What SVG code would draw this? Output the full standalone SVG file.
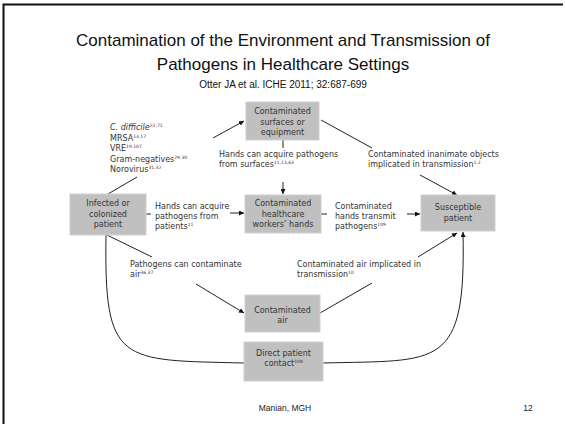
<svg xmlns="http://www.w3.org/2000/svg" width="565" height="424" viewBox="0 0 565 424">
<style>
.title{font-family:"Liberation Sans",Arial,sans-serif;fill:#111;text-anchor:middle}
.box{fill:#c0c0c0;stroke:#d0d0d0;stroke-width:1}
.bt{font-family:"DejaVu Sans",Verdana,sans-serif;font-size:8px;fill:#333;text-anchor:middle}
.lbl{font-family:"DejaVu Sans",Verdana,sans-serif;font-size:8px;fill:#333}
.sup{font-size:4.5px}
.ln{fill:none;stroke:#222;stroke-width:1}
.foot{font-family:"Liberation Sans",Arial,sans-serif;font-size:8.5px;fill:#222}
</style>
<defs>
<marker id="ah" viewBox="0 0 5 5" refX="5" refY="2.5" markerWidth="5" markerHeight="5" markerUnits="userSpaceOnUse" orient="auto">
<path d="M0,0 L5,2.5 L0,5 z" fill="#111"/>
</marker>
</defs>
<rect width="565" height="424" fill="#fff"/>
<path d="M3.5,424 V4.5 H563" fill="none" stroke="#111" stroke-width="2"/>
<g id="title">
<text class="title" x="283" y="46" font-size="17">Contamination of the Environment and Transmission of</text>
<text class="title" x="283" y="70" font-size="17">Pathogens in Healthcare Settings</text>
<text class="title" x="283" y="88" font-size="10">Otter JA et al. ICHE 2011; 32:687-699</text>
</g>
<g id="connectors">
<path class="ln" d="M213,138 L244,121" marker-end="url(#ah)"/>
<path class="ln" d="M108,194 L137,177"/>
<path class="ln" d="M283,140 V148"/>
<path class="ln" d="M283,182 V194" marker-end="url(#ah)"/>
<path class="ln" d="M146,214 H151"/>
<path class="ln" d="M230,213 H244" marker-end="url(#ah)"/>
<path class="ln" d="M321,214 H327"/>
<path class="ln" d="M407,214 H420" marker-end="url(#ah)"/>
<path class="ln" d="M321,120 L372,148"/>
<path class="ln" d="M420,175 L457,195" marker-end="url(#ah)"/>
<path class="ln" d="M107,235 L152,257"/>
<path class="ln" d="M196,284 L244,313" marker-end="url(#ah)"/>
<path class="ln" d="M320,313 L372,283"/>
<path class="ln" d="M418,257 L457,233" marker-end="url(#ah)"/>
<path class="ln" d="M106,235 C104,365 120,360 244,363"/>
<path class="ln" d="M323,363 C440,360 466,370 463,232" marker-end="url(#ah)"/>
</g>
<g id="pathogens">
<text class="lbl" x="110" y="130" font-style="italic">C. difficile<tspan class="sup" font-style="normal" dy="-3">22,71</tspan></text>
<text class="lbl" x="110" y="140.5">MRSA<tspan class="sup" dy="-3">13,17</tspan></text>
<text class="lbl" x="110" y="151">VRE<tspan class="sup" dy="-3">19,107</tspan></text>
<text class="lbl" x="110" y="161.5">Gram-negatives<tspan class="sup" dy="-3">29,30</tspan></text>
<text class="lbl" x="110" y="172">Norovirus<tspan class="sup" dy="-3">31,32</tspan></text>
</g>
<g id="surfaces">
<rect class="box" x="246" y="102" width="73" height="38"/>
<text class="bt" x="282.5" y="114">Contaminated</text>
<text class="bt" x="282.5" y="124.5">surfaces or</text>
<text class="bt" x="282.5" y="135">equipment</text>
</g>
<g id="infected">
<rect class="box" x="70" y="194" width="76" height="41"/>
<text class="bt" x="108" y="206">Infected or</text>
<text class="bt" x="108" y="216.5">colonized</text>
<text class="bt" x="108" y="227">patient</text>
</g>
<g id="hands">
<rect class="box" x="245" y="195" width="76" height="38"/>
<text class="bt" x="283" y="206">Contaminated</text>
<text class="bt" x="283" y="216.5">healthcare</text>
<text class="bt" x="283" y="227">workers’ hands</text>
</g>
<g id="susceptible">
<rect class="box" x="421" y="195" width="74" height="36"/>
<text class="bt" x="458" y="210">Susceptible</text>
<text class="bt" x="458" y="221">patient</text>
</g>
<g id="air">
<rect class="box" x="245" y="295" width="75" height="37"/>
<text class="bt" x="282.5" y="313">Contaminated</text>
<text class="bt" x="282.5" y="323">air</text>
</g>
<g id="direct">
<rect class="box" x="244" y="342" width="79" height="39"/>
<text class="bt" x="283.5" y="356">Direct patient</text>
<text class="bt" x="283.5" y="365.5">contact<tspan class="sup" dy="-3">108</tspan></text>
</g>
<g id="labels">
<text class="lbl" x="219" y="157">Hands can acquire pathogens</text>
<text class="lbl" x="219" y="167">from surfaces<tspan class="sup" dy="-3">11,13,63</tspan></text>
<text class="lbl" x="155" y="209">Hands can acquire</text>
<text class="lbl" x="155" y="219">pathogens from</text>
<text class="lbl" x="155" y="229">patients<tspan class="sup" dy="-3">11</tspan></text>
<text class="lbl" x="335" y="209">Contaminated</text>
<text class="lbl" x="335" y="219">hands transmit</text>
<text class="lbl" x="335" y="229">pathogens<tspan class="sup" dy="-3">109</tspan></text>
<text class="lbl" x="368" y="157">Contaminated inanimate objects</text>
<text class="lbl" x="368" y="167">implicated in transmission<tspan class="sup" dy="-3">1,2</tspan></text>
<text class="lbl" x="130" y="267">Pathogens can contaminate</text>
<text class="lbl" x="130" y="277">air<tspan class="sup" dy="-3">36,37</tspan></text>
<text class="lbl" x="297" y="267">Contaminated air implicated in</text>
<text class="lbl" x="297" y="277">transmission<tspan class="sup" dy="-3">10</tspan></text>
</g>
<g id="footer">
<text class="foot" x="285" y="411" text-anchor="middle">Manian, MGH</text>
<text class="foot" x="528" y="411" text-anchor="middle">12</text>
</g>
</svg>
